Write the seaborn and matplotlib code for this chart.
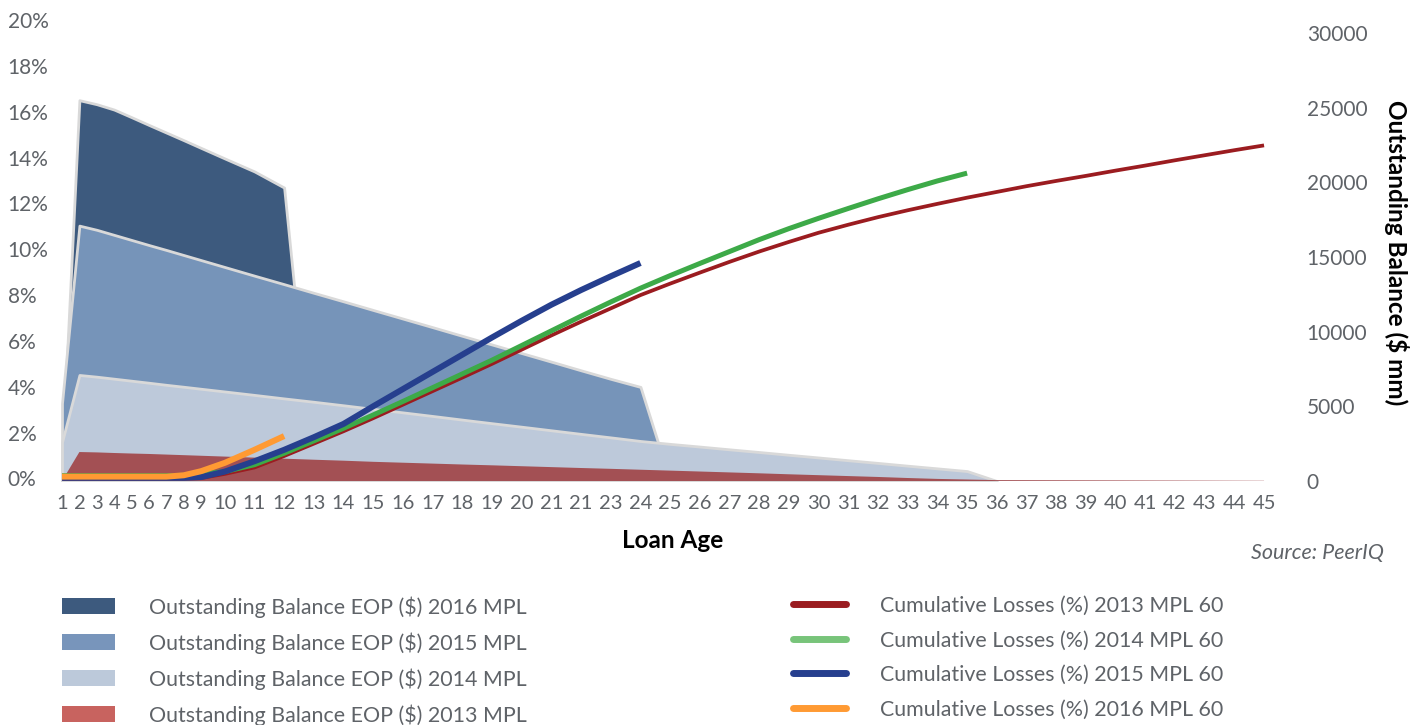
import numpy as np
import matplotlib
matplotlib.use("Agg")
import matplotlib.pyplot as plt
from matplotlib.patches import Patch
from matplotlib.lines import Line2D
import seaborn as sns

# ---- data -------------------------------------------------------------
age_labels = ["1", "2", "3", "4", "5", "6", "7", "8", "9", "10", "11", "12",
              "13", "14", "15", "16", "17", "18", "19", "20", "21", "21",
              "23", "24", "25", "26", "27", "28", "29", "30", "31", "32",
              "33", "34", "35", "36", "37", "38", "39", "40", "41", "42",
              "43", "44", "45"]

# Outstanding balance at end of period ($ mm), by loan age starting at 1
bal_2016 = [1500, 25500, 25230, 24870, 24360, 23840, 23330, 22820, 22300,
            21600, 20730, 19650, 0]
bal_2015 = [5200, 17100, 16820, 16480, 16140, 15800, 15470, 15130, 14790,
            14330, 13750, 13180, 12600, 12030, 11450, 10875, 10300, 9720,
            9140, 8565, 7990, 7410, 6840, 6300, 0]
bal_2014 = [2600, 7100, 6985, 6850, 6715, 6580, 6440, 6310, 6175, 5995,
            5765, 5530, 5305, 5070, 4830, 4595, 4355, 4110, 3870, 3635,
            3395, 3155, 2920, 2680, 2485, 2305, 2120, 1940, 1755, 1575,
            1390, 1210, 1025, 845, 665, 0]
bal_2013 = [0, 1940, 1915, 1875, 1840, 1810, 1770, 1730, 1690, 1635, 1565,
            1495, 1425, 1360, 1285, 1225, 1165, 1105, 1050, 990, 930, 870,
            815, 755, 695, 635, 575, 515, 450, 390, 330, 270, 200, 140, 100,
            60, 55, 50, 45, 40, 35, 30, 25, 20, 15]

# Cumulative losses (%), by loan age starting at 1
loss_2013 = [0.0, 0.0, 0.0, 0.0, 0.0, 0.0, 0.0, 0.0, 0.02, 0.2, 0.48, 0.98,
             1.52, 2.06, 2.63, 3.22, 3.81, 4.40, 5.0, 5.62, 6.24, 6.84,
             7.42, 8.0, 8.5, 8.98, 9.45, 9.9, 10.32, 10.72, 11.07, 11.4,
             11.7, 11.98, 12.25, 12.5, 12.75, 12.98, 13.2, 13.43, 13.65,
             13.88, 14.1, 14.32, 14.53]
loss_2014 = [0.12, 0.12, 0.12, 0.12, 0.12, 0.12, 0.12, 0.14, 0.2, 0.3, 0.6,
             1.1, 1.64, 2.19, 2.77, 3.36, 3.96, 4.56, 5.16, 5.8, 6.44, 7.08,
             7.7, 8.3, 8.85, 9.38, 9.9, 10.42, 10.9, 11.35, 11.78, 12.2,
             12.6, 12.98, 13.32]
loss_2015 = [0.03, 0.03, 0.03, 0.03, 0.03, 0.03, 0.03, 0.03, 0.06, 0.3, 0.75,
             1.25, 1.8, 2.38, 3.15, 3.9, 4.65, 5.4, 6.15, 6.88, 7.58, 8.22,
             8.82, 9.4]
loss_2016 = [0.08, 0.08, 0.08, 0.08, 0.08, 0.08, 0.08, 0.14, 0.32, 0.68,
             1.25, 1.85]

balance_series = [
    ("Outstanding Balance EOP ($) 2016 MPL", bal_2016, "#3D5A7E", "#3D5A7E", True),
    ("Outstanding Balance EOP ($) 2015 MPL", bal_2015, "#7694B9", "#7895BB", True),
    ("Outstanding Balance EOP ($) 2014 MPL", bal_2014, "#BDC9DA", "#BCC9DA", True),
    ("Outstanding Balance EOP ($) 2013 MPL", bal_2013, "#A35054", "#C8635F", False),
]
loss_series = [
    ("Cumulative Losses (%) 2013 MPL 60", loss_2013, "#9B1C20", "#9B1C20", 2.7),
    ("Cumulative Losses (%) 2014 MPL 60", loss_2014, "#3DAA48", "#78C47A", 3.6),
    ("Cumulative Losses (%) 2015 MPL 60", loss_2015, "#263F8E", "#263F8E", 4.3),
    ("Cumulative Losses (%) 2016 MPL 60", loss_2016, "#FF9A33", "#FF9A33", 4.3),
]

# ---- styling ----------------------------------------------------------
sns.set_theme(style="white")
plt.rcParams["font.family"] = ["Lato", "DejaVu Sans"]
TICK_GREY = "#5F6368"

# Category axis whose slots are packed by the width of each age label
digit_w, gap = 12.3, 5.1
lens = np.array([len(s) for s in age_labels], dtype=float)
slot_pos = np.concatenate([[0.0], np.cumsum((lens[:-1] + lens[1:]) / 2 * digit_w + gap)])
age_idx = np.arange(1, len(age_labels) + 1, dtype=float)


def to_slot(a):
    a = np.asarray(a, dtype=float)
    lo = (a - age_idx[0]) * (slot_pos[1] - slot_pos[0])
    hi = slot_pos[-1] + (a - age_idx[-1]) * (slot_pos[-1] - slot_pos[-2])
    return np.where(a < age_idx[0], lo,
                    np.where(a > age_idx[-1], hi, np.interp(a, age_idx, slot_pos)))


def from_slot(p):
    p = np.asarray(p, dtype=float)
    lo = age_idx[0] + p / (slot_pos[1] - slot_pos[0])
    hi = age_idx[-1] + (p - slot_pos[-1]) / (slot_pos[-1] - slot_pos[-2])
    return np.where(p < slot_pos[0], lo,
                    np.where(p > slot_pos[-1], hi, np.interp(p, slot_pos, age_idx)))


W, H = 1425, 725
fig = plt.figure(figsize=(W / 100, H / 100), dpi=100)
ax = fig.add_axes([57.65 / W, 1 - 481 / H, (1278.9 - 57.65) / W, (481 - 20) / H])
ax2 = ax.twinx()
for a in (ax, ax2):
    a.set_xscale("function", functions=(to_slot, from_slot))
ax.set_zorder(ax2.get_zorder() + 1)
ax.patch.set_visible(False)

# ---- balance areas (right axis) ---------------------------------------
for i, (name, vals, color, _, edged) in enumerate(balance_series):
    x = np.arange(1, len(vals) + 1)
    ax2.fill_between(x, 0, vals, facecolor=color,
                     edgecolor="#D9D9D9" if edged else "none",
                     linewidth=2.0 if edged else 0, zorder=1 + i)

# ---- loss lines (left axis) -------------------------------------------
for name, vals, color, _, lw in loss_series:
    x = np.arange(1, len(vals) + 1)
    sns.lineplot(x=x, y=vals, ax=ax, color=color, linewidth=lw,
                 legend=False, solid_capstyle="butt")

# ---- axes -------------------------------------------------------------
ax.set_xlim(0.75, 45.5)
ax.set_ylim(-0.11, 20)
ax2.set_ylim(0, 30870)

ax.set_xticks(age_idx)
ax.set_xticklabels(age_labels)
ax.set_yticks(np.arange(0, 21, 2))
ax.set_yticklabels([f"{v}%" for v in range(0, 21, 2)])
ax2.set_yticks(np.arange(0, 30001, 5000))
ax2.set_yticklabels([str(v) for v in range(0, 30001, 5000)])

ax.tick_params(axis="x", length=0, pad=10, labelsize=14.5, colors=TICK_GREY)
ax.tick_params(axis="y", length=0, pad=36, labelsize=15, colors=TICK_GREY)
for lab in ax.get_yticklabels():
    lab.set_horizontalalignment("left")
ax2.tick_params(axis="y", length=0, pad=20, labelsize=15, colors=TICK_GREY)
for a in (ax, ax2):
    for s in a.spines.values():
        s.set_visible(False)
    a.grid(False)
ax.set_xlabel("")
ax.set_ylabel("")

fig.text(673 / W, 1 - 540 / H, "Loan Age", ha="center", va="center",
         fontsize=17.5, fontweight="bold", color="black")
fig.text(1397 / W, 1 - 253 / H, "Outstanding Balance ($ mm)", ha="center",
         va="center", rotation=270, fontsize=17.5, fontweight="bold", color="black")
fig.text(1384 / W, 1 - 553 / H, "Source: PeerIQ", ha="right", va="center",
         fontsize=15.5, style="italic", color=TICK_GREY)

# ---- legends ----------------------------------------------------------
area_handles = [Patch(facecolor=lc, edgecolor="none") for _, _, _, lc, _ in balance_series]
line_handles = [Line2D([0], [0], color=lc, linewidth=5) for _, _, _, lc, _ in loss_series]
leg_kw = dict(frameon=False, borderpad=0, borderaxespad=0, fontsize=15.4,
              labelcolor=TICK_GREY, handlelength=2.5, handleheight=0.75,
              handletextpad=1.55, labelspacing=0.68, loc="upper left")
fig.legend(area_handles, [n for n, *_ in balance_series],
           bbox_to_anchor=(62 / W, 1 - 596 / H), **leg_kw)
fig.legend(line_handles, [n for n, *_ in loss_series],
           bbox_to_anchor=(793 / W, 1 - 596 / H), **leg_kw)

fig.savefig("out.png", dpi=100)
